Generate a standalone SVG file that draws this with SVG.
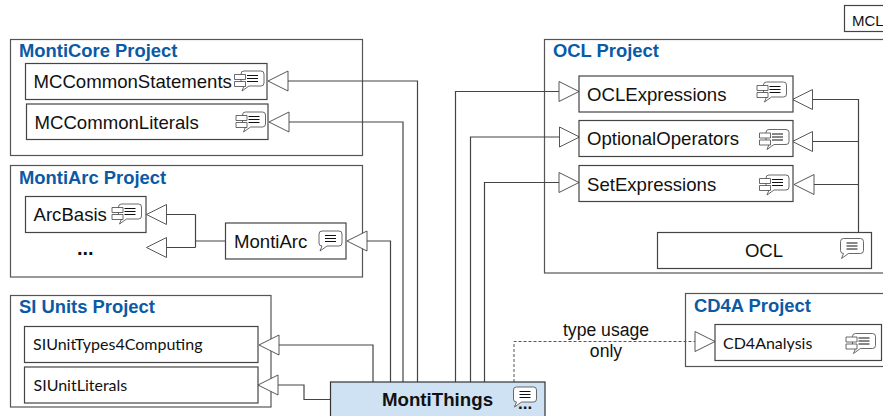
<svg xmlns="http://www.w3.org/2000/svg" width="883" height="416" viewBox="0 0 883 416">
<style>
text{font-family:"Liberation Sans",Arial,sans-serif;fill:#111}
.pkg{fill:#fff;stroke:#555;stroke-width:1.2}
.box{fill:#fff;stroke:#444;stroke-width:1.2}
.title{font-size:18.400px;font-weight:bold;fill:#0b5aa5}
.lbl{font-size:18.600px}
.cal{font-family:Lato,"Open Sans",sans-serif;font-size:16px}
.edge{fill:none;stroke:#444;stroke-width:1.200}
.dash{fill:none;stroke:#555;stroke-width:1;stroke-dasharray:3 2}
.head{fill:#fff;stroke:#444;stroke-width:.9}
.ic{fill:#fff;stroke:#444;stroke-width:.8}
.il{fill:none;stroke:#111;stroke-width:1}
</style>
<defs>
<g id="bubble">
<path class="ic" d="M3 0H20Q23 0 23 3V12Q23 15 20 15H8L1 20L3 15Q0 15 0 12V3Q0 0 3 0Z"/>
<path class="il" d="M6 4.500H17M6 7.500H17M6 10.500H17"/>
</g>
<g id="compbubble">
<use href="#bubble" x="6.500" y="0"/>
<path class="ic" d="M0 3.500H11V8.500H0ZM0 10.500H11V15.500H0Z"/>
</g>
<path id="hl" class="head" d="M0 0L20 -10V10Z"/>
<path id="hr" class="head" d="M0 0L-20 -10V10Z"/>
</defs>

<g id="pkg-monticore"><rect class="pkg" x="10.500" y="39.500" width="352" height="116"/><text class="title" x="19" y="57">MontiCore Project</text></g>
<g id="pkg-montiarc"><rect class="pkg" x="10.500" y="165.500" width="352" height="111.500"/><text class="title" x="19" y="184">MontiArc Project</text></g>
<g id="pkg-si"><rect class="pkg" x="10.500" y="295.500" width="260.500" height="111.500"/><text class="title" x="19" y="313">SI Units Project</text></g>
<g id="pkg-ocl"><rect class="pkg" x="544.500" y="39.500" width="345" height="233.500"/><text class="title" x="553" y="57">OCL Project</text></g>
<g id="pkg-cd4a"><rect class="pkg" x="685.500" y="293.500" width="205" height="73"/><text class="title" x="694" y="312">CD4A Project</text></g>

<g id="connectors">
<path class="edge" d="M417.500 382V81H287"/>
<path class="edge" d="M403 382V122H288"/>
<path class="edge" d="M390.500 382V241H367"/>
<path class="edge" d="M225.500 241H195.500M195.500 214.500V247.500M195.500 214.500H165.500M195.500 247.500H165.500"/>
<path class="edge" d="M373 382V345H278"/>
<path class="edge" d="M330.500 399.500H304V385H277"/>
<path class="edge" d="M455.500 382V91.500H559"/>
<path class="edge" d="M470.500 382V137H560"/>
<path class="edge" d="M484.500 382V182.500H559"/>
<path class="edge" d="M858.500 232V99.500H812.500M858.500 141.500H812.500M858.500 184.500H814"/>
<path class="dash" d="M514 382V341.500H695.500"/>
<use href="#hl" x="268" y="81"/>
<use href="#hl" x="269" y="122"/>
<use href="#hl" x="146.500" y="214.500"/>
<use href="#hl" x="146.500" y="247.500"/>
<use href="#hl" x="347" y="241"/>
<use href="#hl" x="259" y="345"/>
<use href="#hl" x="258" y="385"/>
<use href="#hr" x="579" y="91.500"/>
<use href="#hr" x="579.500" y="137"/>
<use href="#hr" x="579" y="182.500"/>
<use href="#hl" x="792.500" y="99.500"/>
<use href="#hl" x="792.500" y="141.500"/>
<use href="#hl" x="794" y="184.500"/>
<use href="#hr" x="715" y="341.500"/>
<text x="606" y="336" font-size="17.600" text-anchor="middle">type usage</text>
<text x="606" y="357" font-size="17.600" text-anchor="middle">only</text>
</g>

<g id="mccommonstatements"><rect class="box" x="25.500" y="63.500" width="241.500" height="36"/><text class="lbl" x="33.500" y="88">MCCommonStatements</text><use href="#compbubble" x="234.500" y="71"/></g>
<g id="mccommonliterals"><rect class="box" x="26.500" y="104" width="241.500" height="35.500"/><text class="lbl" x="34.500" y="129">MCCommonLiterals</text><use href="#compbubble" x="236" y="112"/></g>
<g id="arcbasis"><rect class="box" x="25.500" y="196.500" width="120.500" height="36"/><text class="lbl" x="33.500" y="221">ArcBasis</text><use href="#compbubble" x="112" y="204"/></g>
<text id="arc-more" x="77" y="255" font-size="20" font-weight="bold">...</text>
<g id="montiarc"><rect class="box" x="225.500" y="223" width="120.500" height="36"/><text class="lbl" x="234" y="248">MontiArc</text><use href="#bubble" x="319" y="231"/></g>
<g id="siunittypes"><rect class="box" x="24.500" y="326.500" width="233.500" height="36"/><text class="cal" x="33" y="350">SIUnitTypes4Computing</text></g>
<g id="siunitliterals"><rect class="box" x="24.500" y="367" width="233.500" height="36"/><text class="cal" x="33.500" y="391">SIUnitLiterals</text></g>
<g id="oclexpressions"><rect class="box" x="579" y="76" width="214" height="36"/><text class="lbl" x="587" y="101">OCLExpressions</text><use href="#compbubble" x="757" y="82"/></g>
<g id="optionaloperators"><rect class="box" x="579" y="120.500" width="214" height="36"/><text class="lbl" x="587" y="145">OptionalOperators</text><use href="#compbubble" x="759.500" y="129.500"/></g>
<g id="setexpressions"><rect class="box" x="579" y="165.500" width="214" height="36"/><text class="lbl" x="587" y="191">SetExpressions</text><use href="#compbubble" x="759.500" y="175"/></g>
<g id="ocl"><rect class="box" x="657.500" y="232.500" width="214" height="36"/><text class="lbl" x="764" y="257" text-anchor="middle">OCL</text><use href="#bubble" x="840.500" y="238.500"/></g>
<g id="cd4analysis"><rect class="box" x="715" y="324.500" width="166.500" height="36"/><text class="cal" x="723" y="349">CD4Analysis</text><use href="#compbubble" x="846" y="333.500"/></g>
<g id="mcl"><rect class="box" x="844.500" y="5.500" width="50" height="26"/><text x="852" y="26" font-size="15">MCL</text></g>
<g id="montithings"><rect x="330.500" y="382" width="214.500" height="40" fill="#cfe2f3" stroke="#333" stroke-width="1.200"/><text x="437.500" y="406" font-size="18.700" font-weight="bold" text-anchor="middle">MontiThings</text><use href="#bubble" x="513.500" y="387"/><text x="518" y="409" font-size="17" font-weight="bold">...</text></g>
</svg>
